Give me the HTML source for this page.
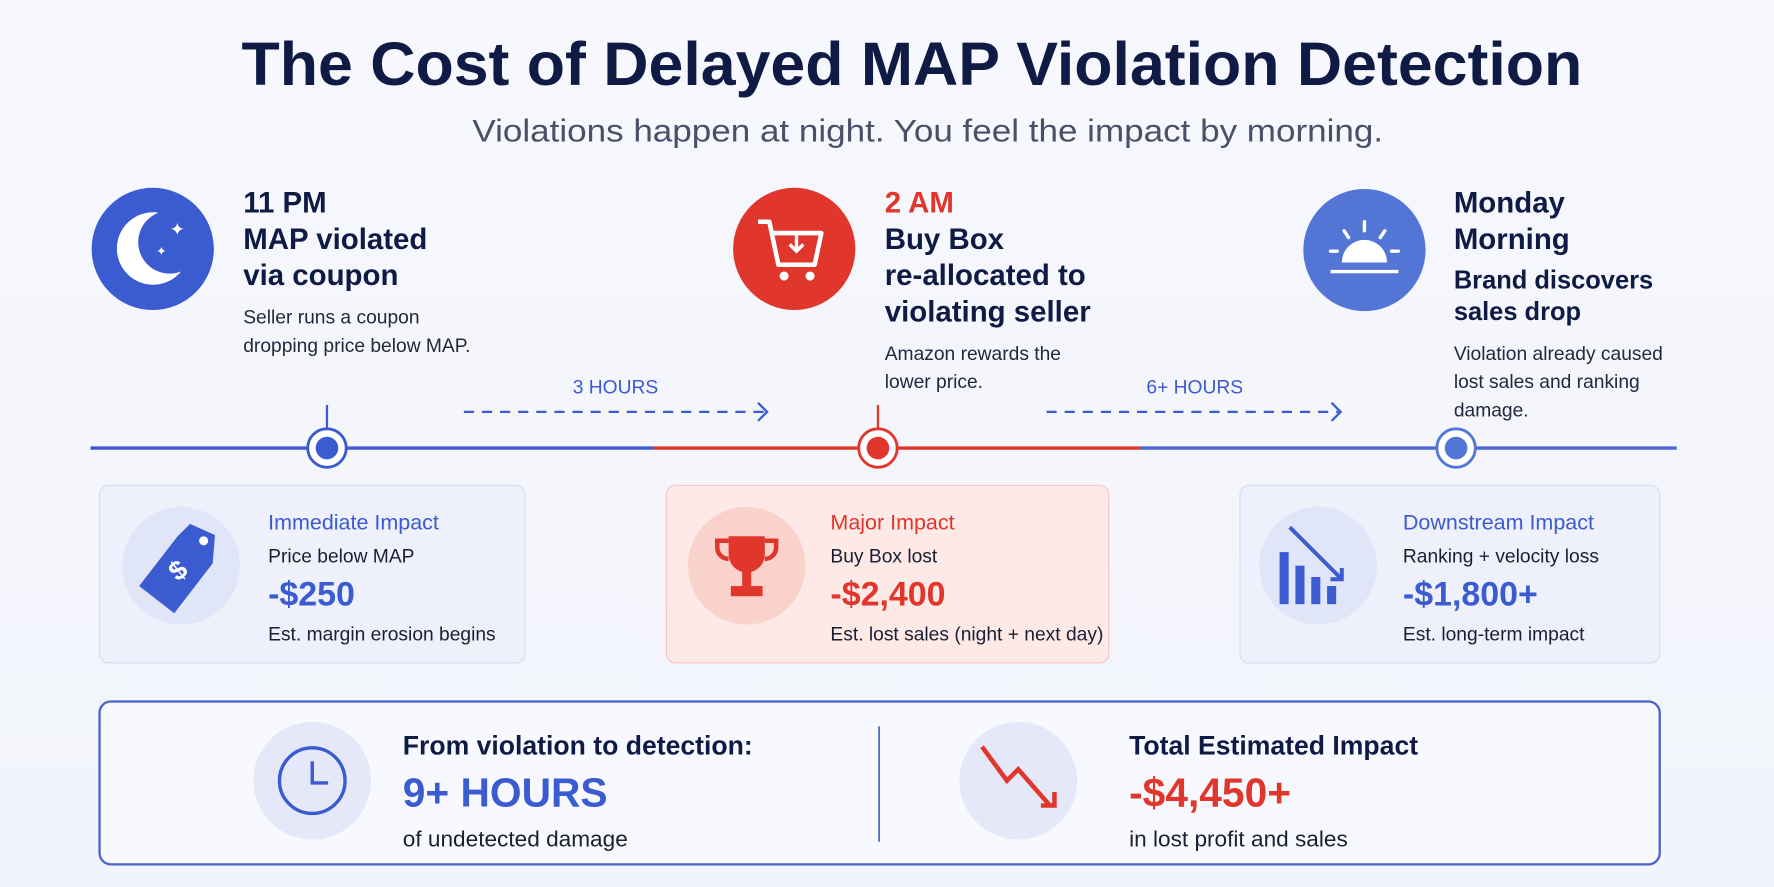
<!DOCTYPE html>
<html><head><meta charset="utf-8"><style>
html,body{margin:0;padding:0;background:#f5f7fd;overflow:hidden}
svg{display:block}
text{font-family:"Liberation Sans",sans-serif}
</style></head><body>
<svg width="1774" height="887" viewBox="0 0 1568 784" preserveAspectRatio="none">
<defs><linearGradient id="bg" x1="0" y1="0" x2="0" y2="1"><stop offset="0" stop-color="#f7f8fd"/><stop offset="1" stop-color="#f2f4fb"/></linearGradient></defs>
<rect width="1568" height="784" fill="url(#bg)"/>
<text x="806" y="75" text-anchor="middle" font-size="54" font-weight="bold" fill="#0f1b45" textLength="1185" lengthAdjust="spacingAndGlyphs">The Cost of Delayed MAP Violation Detection</text>
<text x="820" y="125" text-anchor="middle" font-size="28" fill="#4a5068" textLength="805" lengthAdjust="spacingAndGlyphs">Violations happen at night. You feel the impact by morning.</text>

<g>
<circle cx="135" cy="220" r="54" fill="#3b5bd0"/>
<path d="M140 188 A32 32 0 1 0 160 240 A26 26 0 1 1 140 188 Z" fill="#fff"/>
<text x="150" y="208" font-size="16" fill="#fff">✦</text><text x="138" y="226" font-size="11" fill="#fff">✦</text>
<text x="215" y="188" font-size="26" font-weight="bold" fill="#0f1b45">11 PM</text>
<text x="215" y="220" font-size="26" font-weight="bold" fill="#0f1b45">MAP violated</text>
<text x="215" y="252" font-size="26" font-weight="bold" fill="#0f1b45">via coupon</text>
<text x="215" y="286" font-size="17" fill="#22283d">Seller runs a coupon</text>
<text x="215" y="311" font-size="17" fill="#22283d">dropping price below MAP.</text>
</g>
<g>
<circle cx="702" cy="220" r="54" fill="#e0362c"/>
<path d="M670 196 h10 l8 38 h32 l6 -28 h-44" fill="none" stroke="#fff" stroke-width="4" stroke-linejoin="round"/>
<path d="M704 208 v14 M698 216 l6 6 l6 -6" fill="none" stroke="#fff" stroke-width="3"/>
<circle cx="693" cy="244" r="4" fill="#fff"/><circle cx="716" cy="244" r="4" fill="#fff"/>
<text x="782" y="188" font-size="26" font-weight="bold" fill="#e0362c">2 AM</text>
<text x="782" y="220" font-size="26" font-weight="bold" fill="#0f1b45">Buy Box</text>
<text x="782" y="252" font-size="26" font-weight="bold" fill="#0f1b45">re-allocated to</text>
<text x="782" y="284" font-size="26" font-weight="bold" fill="#0f1b45">violating seller</text>
<text x="782" y="318" font-size="17" fill="#22283d">Amazon rewards the</text>
<text x="782" y="343" font-size="17" fill="#22283d">lower price.</text>
</g>
<g>
<circle cx="1206" cy="221" r="54" fill="#5275d6"/>
<path d="M1186 232 A20 20 0 0 1 1226 232 Z" fill="#fff"/>
<line x1="1176" y1="240" x2="1236" y2="240" stroke="#fff" stroke-width="3"/>
<g stroke="#fff" stroke-width="3" stroke-linecap="round"><line x1="1206" y1="196" x2="1206" y2="204"/><line x1="1188" y1="204" x2="1192" y2="210"/><line x1="1224" y1="204" x2="1220" y2="210"/><line x1="1176" y1="222" x2="1182" y2="222"/><line x1="1230" y1="222" x2="1236" y2="222"/></g>
<text x="1285" y="188" font-size="26" font-weight="bold" fill="#0f1b45">Monday</text>
<text x="1285" y="220" font-size="26" font-weight="bold" fill="#0f1b45">Morning</text>
<text x="1285" y="255" font-size="22.5" font-weight="bold" fill="#0f1b45">Brand discovers</text>
<text x="1285" y="283" font-size="22.5" font-weight="bold" fill="#0f1b45">sales drop</text>
<text x="1285" y="318" font-size="17" fill="#22283d">Violation already caused</text>
<text x="1285" y="343" font-size="17" fill="#22283d">lost sales and ranking</text>
<text x="1285" y="368" font-size="17" fill="#22283d">damage.</text>
</g>

<g>
<line x1="80" y1="396" x2="578" y2="396" stroke="#3b5bd0" stroke-width="3"/>
<line x1="578" y1="396" x2="1008" y2="396" stroke="#e0362c" stroke-width="3"/>
<line x1="1008" y1="396" x2="1482" y2="396" stroke="#4a67d2" stroke-width="3"/>
<line x1="289" y1="358" x2="289" y2="380" stroke="#3b5bd0" stroke-width="2"/>
<line x1="776" y1="358" x2="776" y2="380" stroke="#e0362c" stroke-width="2"/>
<circle cx="289" cy="396" r="17" fill="#fff" stroke="#3b5bd0" stroke-width="2.5"/><circle cx="289" cy="396" r="10" fill="#3b5bd0"/>
<circle cx="776" cy="396" r="17" fill="#fff" stroke="#e0362c" stroke-width="2.5"/><circle cx="776" cy="396" r="10" fill="#e0362c"/>
<circle cx="1287" cy="396" r="17" fill="#fff" stroke="#5275d6" stroke-width="2.5"/><circle cx="1287" cy="396" r="10" fill="#5275d6"/>
<text x="544" y="348" text-anchor="middle" font-size="17" fill="#3b5bd0">3 HOURS</text>
<line x1="410" y1="364" x2="676" y2="364" stroke="#3b5bd0" stroke-width="2" stroke-dasharray="9 7"/>
<path d="M670 356 l8 8 l-8 8" fill="none" stroke="#3b5bd0" stroke-width="2"/>
<text x="1056" y="348" text-anchor="middle" font-size="17" fill="#3b5bd0">6+ HOURS</text>
<line x1="925" y1="364" x2="1183" y2="364" stroke="#3b5bd0" stroke-width="2" stroke-dasharray="9 7"/>
<path d="M1177 356 l8 8 l-8 8" fill="none" stroke="#3b5bd0" stroke-width="2"/>
</g>

<g>
<rect x="88" y="429" width="376" height="157" rx="8" fill="#eef1fb" stroke="#d5dcf3"/>
<circle cx="160" cy="500" r="52" fill="#e0e5f7"/>
<path d="M168 463 l22 10 l-2 25 l-34 44 l-31 -24 l34 -44 z" fill="#3b5bd0"/>
<circle cx="180" cy="478" r="4" fill="#fff"/>
<text x="158" y="512" font-size="24" font-weight="bold" fill="#fff" transform="rotate(-38 158 505)" text-anchor="middle">$</text>
<text x="237" y="468" font-size="19" fill="#3b5bd0">Immediate Impact</text>
<text x="237" y="497" font-size="17" fill="#1a1f33">Price below MAP</text>
<text x="237" y="535" font-size="30" font-weight="bold" fill="#3b5bd0">-$250</text>
<text x="237" y="566" font-size="17" fill="#1a1f33">Est. margin erosion begins</text>
</g>
<g>
<rect x="589" y="429" width="391" height="157" rx="8" fill="#fde9e6" stroke="#f6c5bf"/>
<circle cx="660" cy="500" r="52" fill="#fad2cc"/>
<path d="M644 474 h32 v16 a16 16 0 0 1 -32 0 z" fill="#e0362c"/>
<path d="M644 478 h-10 v6 a10 10 0 0 0 10 10 M676 478 h10 v6 a10 10 0 0 1 -10 10" fill="none" stroke="#e0362c" stroke-width="4"/>
<rect x="656" y="504" width="8" height="14" fill="#e0362c"/><rect x="646" y="518" width="28" height="9" fill="#e0362c"/>
<text x="734" y="468" font-size="19" fill="#e0362c">Major Impact</text>
<text x="734" y="497" font-size="17" fill="#1a1f33">Buy Box lost</text>
<text x="734" y="535" font-size="30" font-weight="bold" fill="#e0362c">-$2,400</text>
<text x="734" y="566" font-size="17" fill="#1a1f33">Est. lost sales (night + next day)</text>
</g>
<g>
<rect x="1096" y="429" width="371" height="157" rx="8" fill="#eef1fb" stroke="#d5dcf3"/>
<circle cx="1165" cy="500" r="52" fill="#e0e5f7"/>
<rect x="1131" y="488" width="8" height="46" fill="#3b5bd0"/><rect x="1145" y="500" width="8" height="34" fill="#3b5bd0"/><rect x="1159" y="510" width="8" height="24" fill="#3b5bd0"/><rect x="1173" y="518" width="8" height="16" fill="#3b5bd0"/>
<path d="M1140 466 L1186 512 M1176 512 h10 v-10" fill="none" stroke="#3b5bd0" stroke-width="3.5"/>
<text x="1240" y="468" font-size="19" fill="#3b5bd0">Downstream Impact</text>
<text x="1240" y="497" font-size="17" fill="#1a1f33">Ranking + velocity loss</text>
<text x="1240" y="535" font-size="30" font-weight="bold" fill="#3b5bd0">-$1,800+</text>
<text x="1240" y="566" font-size="17" fill="#1a1f33">Est. long-term impact</text>
</g>

<g>
<rect x="88" y="620" width="1379" height="144" rx="10" fill="#f8f9fe" stroke="#4a62c8" stroke-width="2"/>
<line x1="777" y1="642" x2="777" y2="744" stroke="#4a62c8" stroke-width="1.5"/>
<circle cx="276" cy="690" r="52" fill="#e4e8f8"/>
<circle cx="276" cy="690" r="29" fill="none" stroke="#3b5bd0" stroke-width="3"/>
<path d="M276 673 v19 h14" fill="none" stroke="#3b5bd0" stroke-width="3"/>
<text x="356" y="667" font-size="23.5" font-weight="bold" fill="#0f1b45">From violation to detection:</text>
<text x="356" y="713" font-size="36" font-weight="bold" fill="#3b5bd0">9+ HOURS</text>
<text x="356" y="748" font-size="20" fill="#1a1f33">of undetected damage</text>
<circle cx="900" cy="690" r="52" fill="#e4e8f8"/>
<path d="M868 660 L890 690 L900 680 L928 712" fill="none" stroke="#e0362c" stroke-width="4"/>
<path d="M920 712 h12 v-12" fill="none" stroke="#e0362c" stroke-width="4"/>
<text x="998" y="667" font-size="23.5" font-weight="bold" fill="#0f1b45">Total Estimated Impact</text>
<text x="998" y="713" font-size="36" font-weight="bold" fill="#e0362c">-$4,450+</text>
<text x="998" y="748" font-size="20" fill="#1a1f33">in lost profit and sales</text>
</g>
</svg>
</body></html>
